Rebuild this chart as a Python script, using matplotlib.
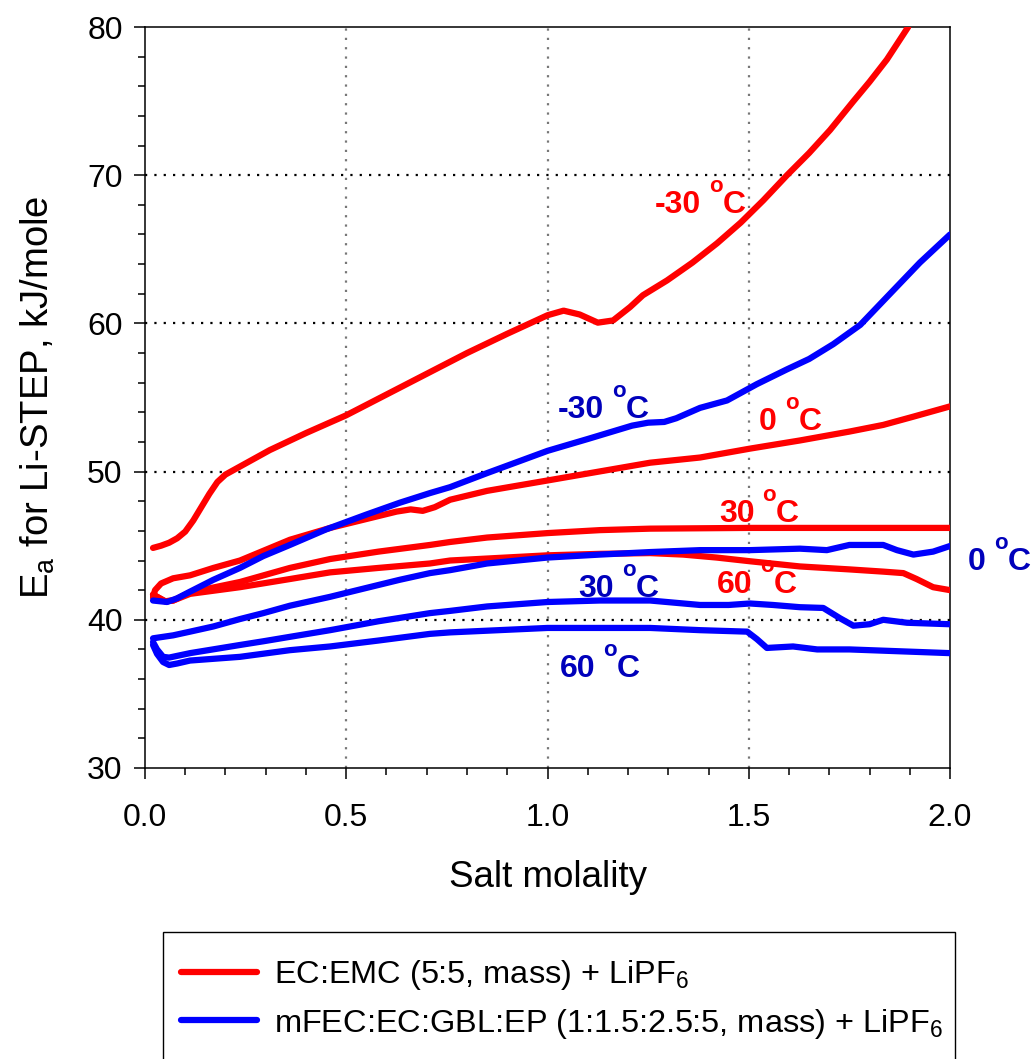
import matplotlib
matplotlib.use("Agg")
import matplotlib.pyplot as plt
from matplotlib.patches import Rectangle
from matplotlib.ticker import MultipleLocator, FormatStrFormatter
from matplotlib.transforms import offset_copy

plt.rcParams['font.family'] = ['Liberation Sans', 'DejaVu Sans']
plt.rcParams['mathtext.fontset'] = 'custom'
plt.rcParams['mathtext.rm'] = 'Liberation Sans'
plt.rcParams['mathtext.bf'] = 'Liberation Sans:bold'
plt.rcParams['mathtext.it'] = 'Liberation Sans:italic'

# EC:EMC (5:5) + LiPF6
red_m30_x = [0.02, 0.04, 0.06, 0.08, 0.1, 0.12, 0.14, 0.16, 0.18, 0.2, 0.22, 0.25, 0.31, 0.4,
             0.5, 0.6, 0.7, 0.8, 0.9, 1.0, 1.04, 1.08, 1.125, 1.163, 1.205, 1.237, 1.297, 1.36,
             1.421, 1.48, 1.536, 1.595, 1.65, 1.702, 1.759, 1.8, 1.843, 1.896]
red_m30_y = [44.85, 45.0, 45.2, 45.5, 45.95, 46.7, 47.6, 48.5, 49.3, 49.8, 50.1, 50.55, 51.45,
             52.6, 53.8, 55.2, 56.6, 58.0, 59.3, 60.55, 60.86, 60.6, 60.05, 60.2, 61.1, 61.9,
             62.9, 64.1, 65.4, 66.8, 68.3, 70.0, 71.5, 73.05, 74.96, 76.3, 77.8, 80.0]

red_0_x = [0.02, 0.025, 0.04, 0.07, 0.112, 0.17, 0.236, 0.36, 0.46, 0.55, 0.625, 0.66, 0.69,
           0.72, 0.758, 0.85, 1.0, 1.255, 1.379, 1.503, 1.627, 1.75, 1.834, 1.908, 2.0]
red_0_y = [41.5, 42.0, 42.45, 42.8, 43.0, 43.5, 44.0, 45.4, 46.2, 46.8, 47.3, 47.45, 47.35,
           47.6, 48.1, 48.7, 49.4, 50.6, 50.95, 51.55, 52.1, 52.7, 53.15, 53.7, 54.4]

red_30_x = [0.02, 0.05, 0.07, 0.112, 0.236, 0.36, 0.46, 0.58, 0.708, 0.758, 0.85, 1.0, 1.13,
            1.255, 1.5, 1.75, 2.0]
red_30_y = [41.7, 41.25, 41.3, 41.85, 42.55, 43.5, 44.1, 44.6, 45.05, 45.25, 45.55, 45.85, 46.05,
            46.15, 46.2, 46.2, 46.2]

red_60_x = [0.02, 0.05, 0.07, 0.112, 0.236, 0.36, 0.46, 0.58, 0.708, 0.758, 1.0, 1.13, 1.255,
            1.337, 1.42, 1.503, 1.627, 1.75, 1.834, 1.884, 1.917, 1.958, 2.0]
red_60_y = [41.7, 41.25, 41.3, 41.75, 42.2, 42.75, 43.2, 43.5, 43.8, 44.0, 44.35, 44.45, 44.5,
            44.4, 44.2, 43.95, 43.6, 43.4, 43.25, 43.15, 42.75, 42.2, 42.0]

# mFEC:EC:GBL:EP (1:1.5:2.5:5) + LiPF6
blue_m30_x = [0.02, 0.055, 0.08, 0.112, 0.17, 0.236, 0.294, 0.36, 0.45, 0.55, 0.633, 0.708,
              0.758, 0.85, 1.0, 1.1, 1.21, 1.25, 1.29, 1.32, 1.379, 1.446, 1.52, 1.595, 1.65,
              1.71, 1.777, 1.858, 1.925, 2.0]
blue_m30_y = [41.3, 41.2, 41.45, 41.9, 42.7, 43.5, 44.3, 45.05, 46.1, 47.1, 47.9, 48.55,
              48.95, 49.9, 51.4, 52.2, 53.1, 53.3, 53.35, 53.6, 54.3, 54.8, 55.9, 56.9, 57.6,
              58.6, 59.9, 62.2, 64.1, 66.0]

blue_0_x = [0.02, 0.07, 0.112, 0.17, 0.236, 0.294, 0.36, 0.46, 0.55, 0.633, 0.708, 0.758, 0.85,
            1.0, 1.13, 1.255, 1.379, 1.503, 1.627, 1.694, 1.75, 1.834, 1.868, 1.909, 1.958, 2.0]
blue_0_y = [38.75, 38.95, 39.2, 39.55, 40.05, 40.45, 40.95, 41.55, 42.15, 42.7, 43.15, 43.35,
            43.8, 44.2, 44.4, 44.57, 44.7, 44.7, 44.8, 44.7, 45.05, 45.05, 44.7, 44.4, 44.6, 44.98]

blue_30_x = [0.02, 0.03, 0.045, 0.06, 0.112, 0.236, 0.294, 0.36, 0.46, 0.58, 0.708, 0.758, 0.85,
             1.0, 1.13, 1.255, 1.379, 1.45, 1.503, 1.56, 1.627, 1.685, 1.727, 1.76, 1.8, 1.834,
             1.893, 2.0]
blue_30_y = [38.5, 38.0, 37.5, 37.45, 37.75, 38.3, 38.55, 38.85, 39.3, 39.9, 40.45, 40.6, 40.9,
             41.2, 41.3, 41.3, 41.0, 41.0, 41.1, 41.0, 40.85, 40.8, 40.1, 39.6, 39.7, 40.0,
             39.8, 39.7]

blue_60_x = [0.02, 0.03, 0.045, 0.06, 0.08, 0.112, 0.236, 0.36, 0.46, 0.58, 0.708, 0.758, 1.0,
             1.255, 1.379, 1.496, 1.52, 1.545, 1.61, 1.67, 1.75, 2.0]
blue_60_y = [38.3, 37.7, 37.15, 36.95, 37.05, 37.25, 37.5, 37.95, 38.2, 38.6, 39.05, 39.15, 39.45,
             39.45, 39.3, 39.2, 38.7, 38.1, 38.2, 38.0, 38.0, 37.75]

red_label = 'EC:EMC (5:5, mass) + LiPF$_\\mathregular{6}$'
blue_label = 'mFEC:EC:GBL:EP (1:1.5:2.5:5, mass) + LiPF$_\\mathregular{6}$'

temp_labels = ['-30', '0', '30', '60', '-30', '0', '30', '60']

RED = '#FF0000'
BLUE = '#0000FF'
RED_TXT = '#FF0000'
BLUE_TXT = '#0000BB'

fig = plt.figure(figsize=(10.34, 10.59), dpi=100)
ax = fig.add_axes([0.1402, 0.2748, 0.7786, 0.6997])

# dotted grid
for yv in [40, 50, 60, 70]:
    ax.axhline(yv, color='black', lw=1.6, ls=(0, (1, 3.2)), zorder=1)
for xv in [0.5, 1.0, 1.5]:
    ax.axvline(xv, color='#777777', lw=1.6, ls=(0, (1, 3.2)), zorder=1)

style = dict(lw=4.5, solid_capstyle='round', solid_joinstyle='round')
ax.plot(red_m30_x, red_m30_y, color=RED, zorder=3, label=red_label, **style)
ax.plot(red_0_x, red_0_y, color=RED, zorder=3, **style)
ax.plot(red_30_x, red_30_y, color=RED, zorder=3, **style)
ax.plot(red_60_x, red_60_y, color=RED, zorder=3, **style)
ax.plot(blue_m30_x, blue_m30_y, color=BLUE, zorder=4, label=blue_label, **style)
ax.plot(blue_0_x, blue_0_y, color=BLUE, zorder=4, **style)
ax.plot(blue_30_x, blue_30_y, color=BLUE, zorder=4, **style)
ax.plot(blue_60_x, blue_60_y, color=BLUE, zorder=4, **style)

ax.set_xlim(0, 2.0)
ax.set_ylim(30, 80)
ax.xaxis.set_major_locator(MultipleLocator(0.5))
ax.xaxis.set_minor_locator(MultipleLocator(0.1))
ax.yaxis.set_major_locator(MultipleLocator(10))
ax.yaxis.set_minor_locator(MultipleLocator(2))
ax.xaxis.set_major_formatter(FormatStrFormatter('%.1f'))

for s in ax.spines.values():
    s.set_linewidth(1.1)
ax.tick_params(which='major', direction='out', length=8, width=1.1, labelsize=23)
ax.tick_params(which='minor', direction='out', length=5, width=1.1)
ax.tick_params(axis='x', which='major', pad=17)
ax.tick_params(axis='y', which='major', pad=8)

ax.set_xlabel('Salt molality', fontsize=26.5, labelpad=20)
ax.set_ylabel('E$_\\mathregular{a}$ for Li-STEP, kJ/mole', fontsize=27.5, labelpad=22)

# temperature tags: number, raised "o", then C (left x, baseline y)
tag_pos = [(1.267, 67.45), (1.525, 52.8), (1.426, 46.6), (1.421, 41.8),
           (1.026, 53.62), (2.045, 43.36), (1.076, 41.54), (1.031, 36.14)]
tag_col = [RED_TXT] * 4 + [BLUE_TXT] * 4
renderer = fig.canvas.get_renderer()
for t, (tx, ty), c in zip(temp_labels, tag_pos, tag_col):
    kw = dict(color=c, fontweight='bold', ha='left', va='baseline', clip_on=False, zorder=5)
    t1 = ax.text(tx, ty, t, fontsize=23, **kw)
    w1 = t1.get_window_extent(renderer).width
    t2 = ax.text(tx, ty, 'o', fontsize=16,
                 transform=offset_copy(ax.transData, fig=fig, x=w1 + 8, y=21, units='dots'), **kw)
    w2 = t2.get_window_extent(renderer).width
    ax.text(tx, ty, 'C', fontsize=23,
            transform=offset_copy(ax.transData, fig=fig, x=w1 + 8 + w2, y=0, units='dots'), **kw)

# legend box below the plot
fig.patches.append(Rectangle((163 / 1034, -0.01), (955 - 163) / 1034, 0.01 + (1059 - 932) / 1059,
                             transform=fig.transFigure, fill=False, edgecolor='black', lw=1.0))
fig.legend(loc='upper left', bbox_to_anchor=(181 / 1034, 1 - 958 / 1059), frameon=False,
           fontsize=23.4, handlelength=2.35, handletextpad=0.5, labelspacing=0.45,
           borderpad=0, borderaxespad=0)

fig.savefig('out.png', dpi=100)
